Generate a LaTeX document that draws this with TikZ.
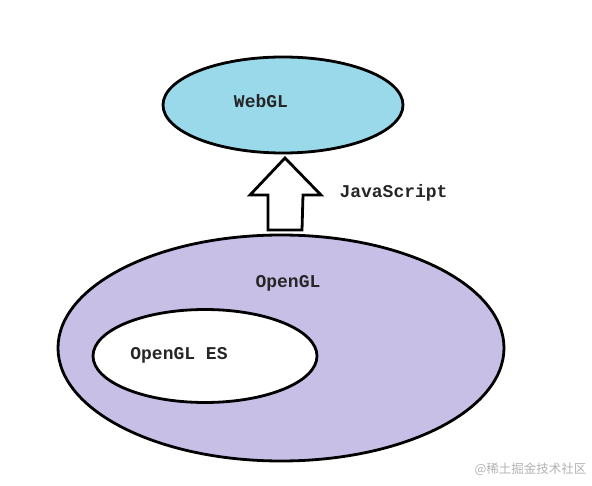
\documentclass[tikz,border=0pt]{standalone}
\usepackage{fontspec}
\setmonofont{Liberation Mono}
\newfontfamily\cjk{Noto Sans CJK SC}
\usepackage{xcolor}
\usetikzlibrary{shapes.geometric}

\definecolor{webblue}{RGB}{153,217,234}
\definecolor{lavender}{RGB}{200,191,231}

\begin{document}
\begin{tikzpicture}[
    x=1pt, y=-1pt,
    blob/.style={ellipse, draw, line width=2.8pt, inner sep=0pt},
    lbl/.style={font=\ttfamily\bfseries\fontsize{18}{20}\selectfont, text=black!85},
    bigarrow/.style={draw, line width=2.8pt, fill=white, line join=miter},
]
\useasboundingbox (0,0) rectangle (592,486);

% Ellipsen
\node[blob, fill=lavender, minimum width=446pt, minimum height=226pt] (opengl) at (281,348) {};
\node[blob, fill=white, minimum width=224pt, minimum height=93pt] (opengles) at (205,356) {};
\node[blob, fill=webblue, minimum width=240pt, minimum height=96pt] (webgl) at (283,105) {};

% Beschriftung
\node[lbl] (webgltxt) at (261,101) {WebGL};
\node[lbl] (opengltxt) at (288,283) {OpenGL};
\node[lbl] (openglestxt) at (179,355) {OpenGL ES};

% Pfeil
\coordinate (tail) at (285,230);
\coordinate (tip) at (285,158);
\draw[bigarrow] ([xshift=-17pt]tail) -- ++(0,-35) -- ++(-18,0) -- (tip)
    -- ++(36,37) -- ++(-18,0) -- ([xshift=17pt]tail) -- cycle;
\node[lbl, anchor=west] (jstxt) at (336,193) {JavaScript};

% Wasserzeichen
\node[anchor=east, text=black!30, font=\cjk\fontsize{12.5}{14}\selectfont] (mark) at (590,469) {@稀土掘金技术社区};

\end{tikzpicture}
\end{document}
